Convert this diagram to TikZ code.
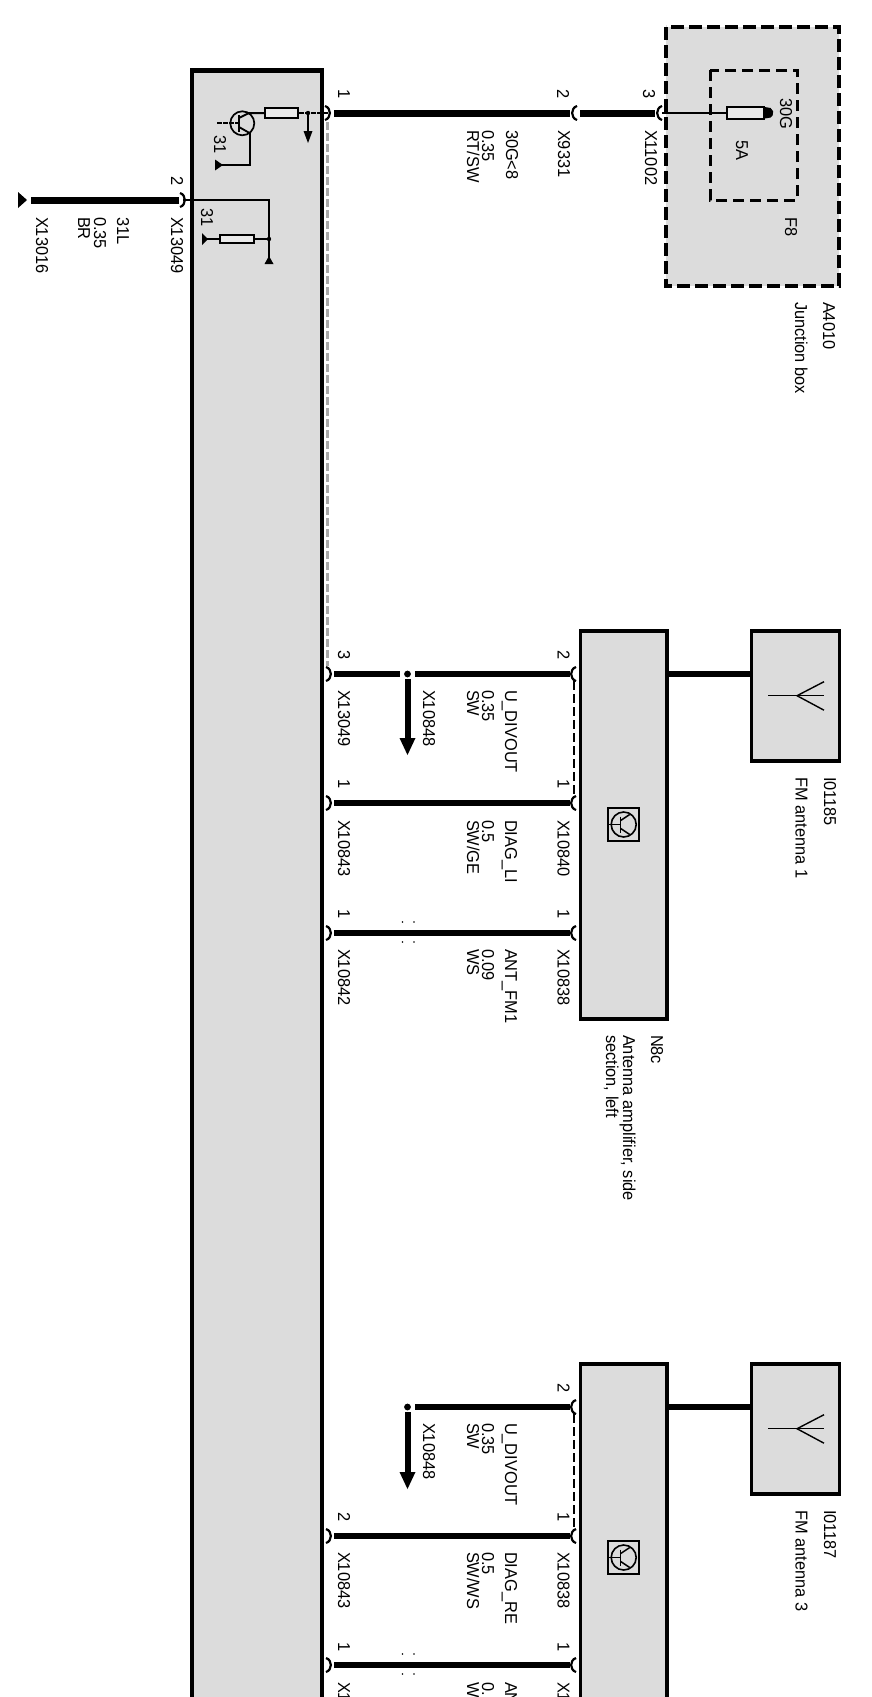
\documentclass[tikz,border=0pt]{standalone}
\usepackage{fontspec}
\setmainfont{Liberation Sans}
\usetikzlibrary{calc}
\definecolor{boxgray}{HTML}{DCDCDC}
\definecolor{dashgray}{HTML}{A8A8A8}
\tikzset{
  lab/.style={rotate=-90,yscale=1.05,transform shape,anchor=west,inner sep=0pt,outer sep=0pt,text height=.72em,text depth=0pt,font=\fontsize{16.4}{18}\selectfont,text=black},
  unit/.style={draw=black,line width=3.2pt,fill=boxgray,line join=miter},
  jbox/.style={draw=black,line width=3.4pt,dash pattern=on 13pt off 5pt},
  fusebox/.style={draw=black,line width=3pt,dash pattern=on 11pt off 6pt},
  wire/.style={draw=black,line width=7pt},
  midwire/.style={draw=black,line width=6pt},
  thin/.style={draw=black,line width=1.8pt},
  res/.style={draw=black,line width=1.6pt,fill=boxgray!60!white},
  shield/.style={draw=dashgray,line width=3pt,dash pattern=on 8pt off 3pt},
  blackdash/.style={draw=black,line width=1.3pt,dash pattern=on 9pt off 4pt},
  pinmark/.style={draw=black,line width=2.2pt},
  tip/.style={fill=black,draw=none},
  mark4/.style={fill=black,draw=none},
}
\newcommand{\pinBulgeRight}[1]{\draw[pinmark] ($(#1)+(-3,-7)$) .. controls ($(#1)+(3.5,-5)$) and ($(#1)+(3.5,5)$) .. ($(#1)+(-3,7)$);}
\newcommand{\pinBulgeLeft}[1]{\draw[pinmark] ($(#1)+(3,-7)$) .. controls ($(#1)+(-3.5,-5)$) and ($(#1)+(-3.5,5)$) .. ($(#1)+(3,7)$);}
\newcommand{\gapmarks}[1]{%
  \fill[mark4] ($(#1)+(-5.5,-11)$) circle (.9);\fill[mark4] ($(#1)+(6,-11)$) circle (.9);
  \fill[mark4] ($(#1)+(-5.5,9)$) circle (.9);\fill[mark4] ($(#1)+(6,9)$) circle (.9);}
\newcommand{\stubarrow}[2]{%
  \draw[midwire] (#1) ++(0,5) -- (#2);
  \fill[tip] ($(#2)+(-8,0)$) -- ($(#2)+(8,0)$) -- ($(#2)+(0,17)$) -- cycle;
  \fill[black] (#1) circle (3.4);}
\newcommand{\antennaicon}[1]{%
  \draw[line width=1.4pt] ($(#1)+(-29,0)$) -- ($(#1)+(27,0)$);
  \draw[line width=1.4pt] ($(#1)+(27,-14)$) -- (#1) -- ($(#1)+(27,14.5)$);}
\newcommand{\ampicon}[1]{%
  \draw[line width=1.5pt,fill=boxgray] ($(#1)+(-15.5,-16.5)$) rectangle ($(#1)+(15.5,16.5)$);
  \draw[line width=1.6pt] (#1) circle (12.5);
  \draw[line width=1.5pt] ($(#1)+(-15.5,0)$) -- ($(#1)+(-3,0)$);
  \draw[line width=1.5pt] ($(#1)+(-3,-8)$) -- ($(#1)+(-3,8)$);
  \draw[line width=1.5pt] ($(#1)+(-3,-4)$) -- ($(#1)+(6,-10)$);
  \draw[line width=1.5pt] ($(#1)+(-3,4)$) -- ($(#1)+(6,10)$);}
\begin{document}
\begin{tikzpicture}[x=1pt,y=-1pt]
\useasboundingbox (0,0) rectangle (871,1697);
\fill[white] (0,0) rectangle (871,1697);
\clip (0,0) rectangle (871,1697);

% ---------- units
\coordinate (mainNW) at (192,70);
\coordinate (mainSE) at (322,1710);
\draw[unit] (mainNW) rectangle (mainSE);
\fill[black] (190.4,68) rectangle (323.6,72.5);

\coordinate (jbNW) at (666,27); \coordinate (jbSE) at (839,286);
\fill[boxgray] (jbNW) rectangle (jbSE);
\draw[jbox] (jbNW) rectangle (jbSE);
\coordinate (f8NW) at (710,70); \coordinate (f8SE) at (797,200);
\draw[fusebox] (f8NW) rectangle (f8SE);

\draw[unit] (580.5,631) rectangle (667,1019);
\draw[unit] (751.5,631) rectangle (839.5,761);
\draw[unit] (580.5,1364) rectangle (667,1710);
\draw[unit] (751.5,1364) rectangle (839.5,1494);

% ---------- shields / dashed links
\coordinate (sa) at (327,122); \coordinate (sb) at (327,666);
\draw[shield] (sa) -- (sb);
\coordinate (da1) at (574,681); \coordinate (da2) at (574,796);
\draw[blackdash] (da1) -- (da2);
\coordinate (db1) at (574,1414); \coordinate (db2) at (574,1529);
\draw[blackdash] (db1) -- (db2);

% ---------- wire 30G
\coordinate (p1) at (328,113); \coordinate (p2) at (574,113); \coordinate (p3) at (659,113);
\draw[wire] (334,113) -- (569.5,113);
\draw[wire] (580,113) -- (655,113);
\pinBulgeRight{p1}\pinBulgeLeft{p2}\pinBulgeLeft{p3}
\coordinate (fuseL) at (726,113);
\draw[thin] (662,113) -- (fuseL);
\node[draw=black,line width=1.6pt,fill=boxgray!60!white,minimum width=37pt,minimum height=12pt,inner sep=0pt,anchor=west] (fuse) at (726,113) {};
\fill[black] (fuse.east) ++(0,-6) -- ++(6,1) arc (-60:60:5.5) -- ++(-6,1) -- cycle;

% ---------- wire 31L
\coordinate (q2) at (183,200); \coordinate (qe) at (27,200);
\draw[wire] (31,200) -- (179,200);
\pinBulgeRight{q2}
\fill[tip] (18,192) -- (18,208) -- (27,200) -- cycle;

% ---------- inside main box, upper
\node[res,minimum width=33pt,minimum height=9.5pt,inner sep=0pt,anchor=center] (r1) at (281.5,113) {};
\coordinate (t1) at (242.3,123.3);
\coordinate (j1) at (308,113);
\draw[line width=2pt,dash pattern=on 5pt off 1pt] (p1) -- (r1.east);
\draw[line width=2pt] (r1.west) -- (249,113) -- (239,118);
\draw[line width=1.7pt] (t1) circle (12);
\draw[line width=1.8pt] (239,115) -- (239,132);
\draw[line width=1.8pt,dash pattern=on 5pt off 1pt] (217,123.3) -- (239,123.3);
\draw[line width=1.8pt] (239,127) -- (249.5,133);
\draw[line width=2pt] (249.5,133) -- (249.5,165) -- (220,165);
\fill[tip] (215,159.5) -- (215,170.5) -- (223,165) -- cycle;
\draw[line width=2pt] (j1) -- (308,132);
\fill[tip] (303.5,131) -- (312.5,131) -- (308,143) -- cycle;
\fill[black] (j1) circle (2.2);

% ---------- inside main box, lower
\coordinate (j2) at (269,239);
\draw[line width=2pt] (q2) -- (269,200) -- (j2) -- (269,259);
\fill[tip] (264.5,264) -- (273.5,264) -- (269,256) -- cycle;
\node[res,minimum width=34pt,minimum height=8.5pt,inner sep=0pt] (r2) at (237,239) {};
\draw[line width=2pt] (j2) -- (r2.east);
\draw[line width=2pt] (r2.west) -- (206,239);
\fill[tip] (202,233) -- (202,245) -- (208,239) -- cycle;
\fill[black] (j2) circle (2.2);

% ---------- amp 1
\coordinate (a1L) at (329,674); \coordinate (a1R) at (573,674); \coordinate (a1N) at (407.5,674);
\coordinate (a1H) at (407.5,738);
\draw[midwire] (334,674) -- (400,674);
\draw[midwire] (415,674) -- (569.5,674);
\pinBulgeRight{a1L}\pinBulgeLeft{a1R}
\stubarrow{a1N}{a1H}
\coordinate (a2L) at (329,803); \coordinate (a2R) at (573,803);
\draw[midwire] (334,803) -- (569.5,803);
\pinBulgeRight{a2L}\pinBulgeLeft{a2R}
\coordinate (a3L) at (329,933); \coordinate (a3R) at (573,933); \coordinate (a3N) at (408,933);
\draw[midwire] (334,933) -- (569.5,933);
\pinBulgeRight{a3L}\pinBulgeLeft{a3R}
\gapmarks{a3N}
\coordinate (ant1L) at (667,674); \coordinate (ant1R) at (751.5,674);
\draw[wire,line width=6pt] (ant1L) -- (ant1R);
\coordinate (ant1) at (797,695.7);
\antennaicon{ant1}
\coordinate (icon1) at (623.7,824.5);
\ampicon{icon1}

% ---------- amp 2
\coordinate (b1R) at (573,1407); \coordinate (b1N) at (407.5,1407); \coordinate (b1H) at (407.5,1472);
\draw[midwire] (415,1407) -- (569.5,1407);
\pinBulgeLeft{b1R}
\stubarrow{b1N}{b1H}
\coordinate (b2L) at (329,1536); \coordinate (b2R) at (573,1536);
\draw[midwire] (334,1536) -- (569.5,1536);
\pinBulgeRight{b2L}\pinBulgeLeft{b2R}
\coordinate (b3L) at (329,1665); \coordinate (b3R) at (573,1665); \coordinate (b3N) at (408,1665);
\draw[midwire] (334,1665) -- (569.5,1665);
\pinBulgeRight{b3L}\pinBulgeLeft{b3R}
\gapmarks{b3N}
\coordinate (ant3L) at (667,1407); \coordinate (ant3R) at (751.5,1407);
\draw[wire,line width=6pt] (ant3L) -- (ant3R);
\coordinate (ant3) at (797,1428.7);
\antennaicon{ant3}
\coordinate (icon3) at (623.7,1557.5);
\ampicon{icon3}

% ---------- labels, top
\node[lab] (t1a) at (342,89) {1};
\node[lab] (t1b) at (561,89) {2};
\node[lab] (t1c) at (647,89) {3};
\node[lab] (t2a) at (562,130) {X9331};
\node[lab] (t2b) at (649,130) {X11002};
\node[lab] (t3a) at (510,130) {30G<8};
\node[lab] (t3b) at (486,130) {0.35};
\node[lab] (t3c) at (471,130) {RT/SW};
\node[lab] (t4a) at (175,176) {2};
\node[lab] (t4b) at (175,217) {X13049};
\node[lab] (t4c) at (121,217) {31L};
\node[lab] (t4d) at (98,217) {0.35};
\node[lab] (t4e) at (82,217) {BR};
\node[lab] (t4f) at (40,217) {X13016};
\node[lab] (t5a) at (218,135) {31};
\node[lab] (t5b) at (205,208) {31};
\node[lab] (t6a) at (784,98) {30G};
\node[lab] (t6b) at (740,140) {5A};
\node[lab] (t6c) at (789,217) {F8};
\node[lab] (t6d) at (827,302) {A4010};
\node[lab] (t6e) at (799,302) {Junction box};

% ---------- labels, amp 1
\node[lab] (u1) at (342,650) {3};
\node[lab] (u2) at (561.5,650) {2};
\node[lab] (u3) at (342,690) {X13049};
\node[lab] (u4) at (427,690) {X10848};
\node[lab] (u5) at (509,690) {U\_DIVOUT};
\node[lab] (u6) at (486,690) {0.35};
\node[lab] (u7) at (471,690) {SW};
\node[lab] (u8) at (342,779) {1};
\node[lab] (u9) at (561.5,779) {1};
\node[lab] (u10) at (342,820) {X10843};
\node[lab] (u11) at (561.5,820) {X10840};
\node[lab] (u12) at (509,820) {DIAG\_LI};
\node[lab] (u13) at (486,820) {0.5};
\node[lab] (u14) at (471,820) {SW/GE};
\node[lab] (u15) at (342,909) {1};
\node[lab] (u16) at (561.5,909) {1};
\node[lab] (u17) at (342,949) {X10842};
\node[lab] (u18) at (561.5,949) {X10838};
\node[lab] (u19) at (509,949) {ANT\_FM1};
\node[lab] (u20) at (486,949) {0.09};
\node[lab] (u21) at (471,949) {WS};
\node[lab] (u22) at (828,777) {I01185};
\node[lab] (u23) at (799.5,777) {FM antenna 1};
\node[lab] (u24) at (655,1035) {N8c};
\node[lab] (u25) at (627,1035) {Antenna amplifier, side};
\node[lab] (u26) at (610,1035) {section, left};

% ---------- labels, amp 2
\node[lab] (v2) at (561.5,1383) {2};
\node[lab] (v4) at (427,1423) {X10848};
\node[lab] (v5) at (509,1423) {U\_DIVOUT};
\node[lab] (v6) at (486,1423) {0.35};
\node[lab] (v7) at (471,1423) {SW};
\node[lab] (v8) at (342,1512) {2};
\node[lab] (v9) at (561.5,1512) {1};
\node[lab] (v10) at (342,1552) {X10843};
\node[lab] (v11) at (561.5,1552) {X10838};
\node[lab] (v12) at (509,1552) {DIAG\_RE};
\node[lab] (v13) at (486,1552) {0.5};
\node[lab] (v14) at (471,1552) {SW/WS};
\node[lab] (v15) at (342,1642) {1};
\node[lab] (v16) at (561.5,1642) {1};
\node[lab] (v17) at (342,1682) {X1};
\node[lab] (v18) at (561.5,1682) {X1};
\node[lab] (v19) at (509,1682) {AN};
\node[lab] (v20) at (486,1682) {0.};
\node[lab] (v21) at (471,1682) {W};
\node[lab] (v22) at (828,1510) {I01187};
\node[lab] (v23) at (799.5,1510) {FM antenna 3};
\end{tikzpicture}
\end{document}
